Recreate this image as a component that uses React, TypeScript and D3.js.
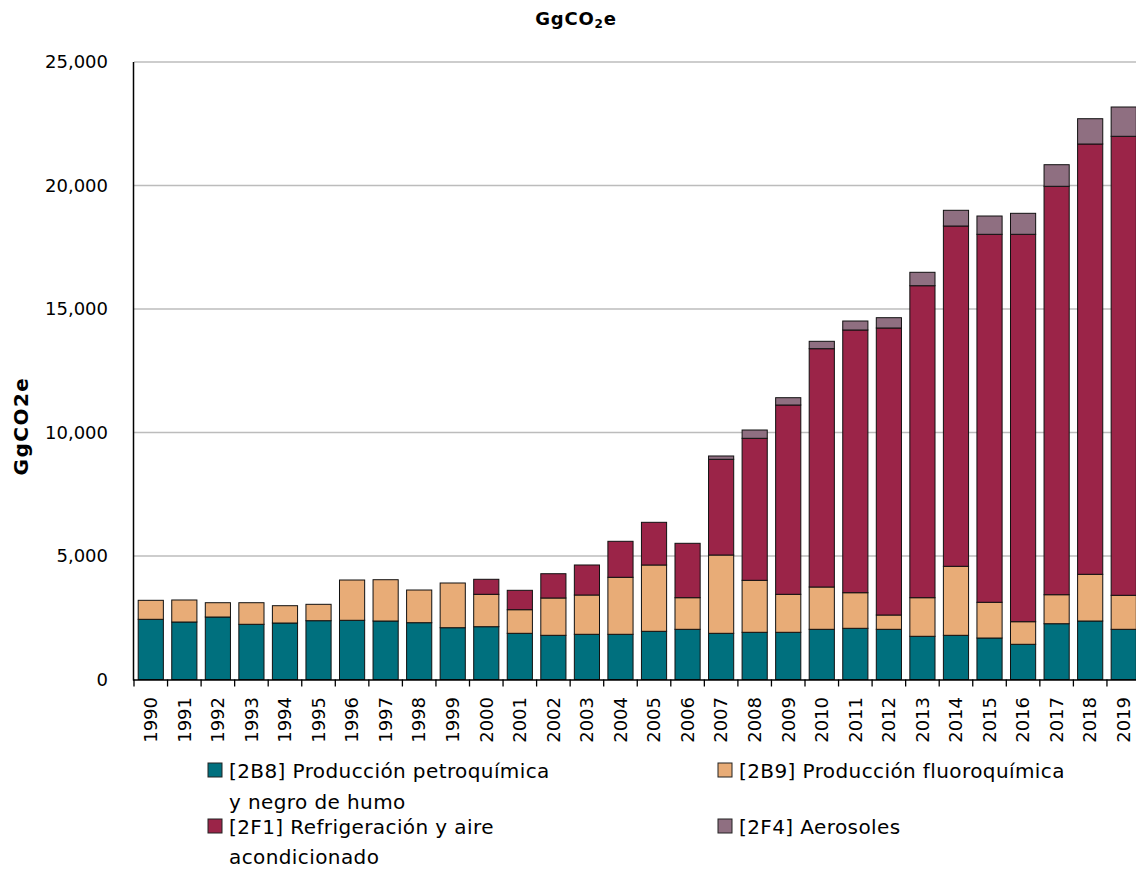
import React from "react";
import * as d3 from "d3";

const years = ["1990","1991","1992","1993","1994","1995","1996","1997","1998","1999","2000","2001","2002","2003","2004","2005","2006","2007","2008","2009","2010","2011","2012","2013","2014","2015","2016","2017","2018","2019"];
const petroquimica = [2437,2328,2530,2235,2287,2381,2397,2368,2300,2097,2138,1870,1789,1830,1830,1951,2032,1870,1911,1911,2032,2073,2032,1749,1789,1680,1425,2259,2368,2032];
const fluoroquimica = [769,891,579,874,701,663,1631,1672,1323,1810,1311,956,1511,1591,2308,2685,1280,3170,2105,1538,1713,1441,579,1563,2794,1446,915,1174,1891,1377];
const refrigeracion = [0,0,0,0,0,0,0,0,0,0,608,785,983,1215,1457,1728,2202,3875,5749,7664,9648,10636,11620,12631,13777,14898,15684,16535,17421,18583];
const aerosoles = [0,0,0,0,0,0,0,0,0,0,0,0,0,0,0,0,0,134,336,296,299,364,417,543,636,741,850,874,1024,1186];
const yTicks = [0, 5000, 10000, 15000, 20000, 25000];

const seriesKeys = ["petro", "fluoro", "refri", "aero"];
const seriesColors: Record<string, string> = {
  petro: "#00707e",
  fluoro: "#e8ac77",
  refri: "#9b2448",
  aero: "#8f6f81",
};

const FONT = "'DejaVu Sans', sans-serif";

export default function App() {
  const W = 1136, H = 869;
  const x0 = 134, x1 = 1140.5;
  const yBottom = 679.5, yTop = 62;

  const rows = years.map((y, i) => ({
    year: y,
    petro: petroquimica[i],
    fluoro: fluoroquimica[i],
    refri: refrigeracion[i],
    aero: aerosoles[i],
  }));

  const x = d3.scaleBand<string>().domain(years).range([x0, x1]).paddingInner(0.25).paddingOuter(0.125);
  const y = d3.scaleLinear().domain([0, 25000]).range([yBottom, yTop]);
  const stacked = d3.stack<any>().keys(seriesKeys)(rows);
  const fmt = d3.format(",");
  const step = x.step();

  return (
    <svg width={W} height={H} style={{ position: "absolute", left: 0, top: 0, display: "block", background: "#fff" }} fontFamily={FONT}>
      <text x={576} y={25} textAnchor="middle" fontSize={18} fontWeight="bold" letterSpacing={0.8} fill="#000">
        GgCO<tspan fontSize={12} dy={3}>2</tspan><tspan dy={-3}>e</tspan>
      </text>

      {/* gridlines */}
      {yTicks.filter(t => t > 0).map(t => (
        <line key={t} x1={x0} x2={W} y1={y(t)} y2={y(t)} stroke="#bcbcbc" strokeWidth={1.3} />
      ))}

      {/* y tick labels */}
      {yTicks.map(t => (
        <text key={t} x={108} y={y(t)} dy="0.35em" textAnchor="end" fontSize={18} fill="#000">{fmt(t)}</text>
      ))}

      {/* y title */}
      <text transform={`translate(28, ${426}) rotate(-90)`} textAnchor="middle" fontSize={20} fontWeight="bold" letterSpacing={1.5} fill="#000">GgCO2e</text>

      {/* bars */}
      {stacked.map(s => (
        <g key={s.key} fill={seriesColors[s.key]}>
          {s.map((d, i) => {
            const h = y(d[0]) - y(d[1]);
            if (h <= 0.01) return null;
            return (
              <rect key={i} x={x(years[i])!} y={y(d[1])} width={x.bandwidth()} height={h} stroke="#111" strokeWidth={1} />
            );
          })}
        </g>
      ))}

      {/* axes */}
      <line x1={x0 - 0.5} x2={x0 - 0.5} y1={yTop} y2={yBottom + 1} stroke="#000" strokeWidth={1.5} />
      <line x1={x0 - 1} x2={W} y1={yBottom + 0.5} y2={yBottom + 0.5} stroke="#000" strokeWidth={1.5} />
      {years.map((yr, i) => (
        <line key={yr} x1={x0 + i * step} x2={x0 + i * step} y1={yBottom} y2={yBottom + 7} stroke="#000" strokeWidth={1.3} />
      ))}
      {years.map(yr => (
        <text key={yr} transform={`translate(${x(yr)! + x.bandwidth() / 2}, 697) rotate(-90)`} textAnchor="end" dy="0.35em" fontSize={18} fill="#000">{yr}</text>
      ))}

      {/* legend */}
      <g fontSize={20} letterSpacing={0.4} fill="#000">
        <rect x={208} y={763} width={14} height={14} fill={seriesColors.petro} stroke="#222" strokeWidth={1} />
        <text x={229} y={778}>[2B8] Producción petroquímica</text>
        <text x={229} y={809}>y negro de humo</text>
        <rect x={208} y={819} width={14} height={14} fill={seriesColors.refri} stroke="#222" strokeWidth={1} />
        <text x={229} y={834}>[2F1] Refrigeración y aire</text>
        <text x={229} y={864}>acondicionado</text>
        <rect x={718} y={763} width={14} height={14} fill={seriesColors.fluoro} stroke="#222" strokeWidth={1} />
        <text x={739} y={778}>[2B9] Producción fluoroquímica</text>
        <rect x={718} y={819} width={14} height={14} fill={seriesColors.aero} stroke="#222" strokeWidth={1} />
        <text x={739} y={834}>[2F4] Aerosoles</text>
      </g>
    </svg>
  );
}
